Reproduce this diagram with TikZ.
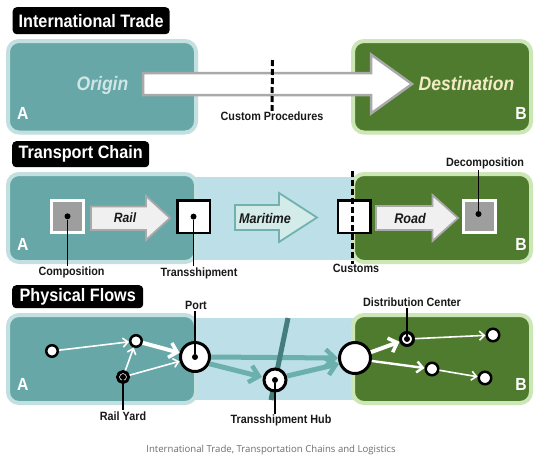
\documentclass[tikz,border=0pt]{standalone}
\usepackage{fontspec}
\setmainfont{Liberation Sans}
\newfontfamily\narrow[FakeStretch=0.9]{Liberation Sans}
\newfontfamily\capfont{Open Sans}
\usetikzlibrary{arrows.meta,calc}

\definecolor{tealfill}{HTML}{67A7A8}
\definecolor{tealrim}{HTML}{C3E0E1}
\definecolor{greenfill}{HTML}{4E7B2D}
\definecolor{greenrim}{HTML}{CCE6B5}
\definecolor{seaband}{HTML}{BCDFE8}
\definecolor{origintxt}{HTML}{CFE6E6}
\definecolor{desttxt}{HTML}{F2EBC4}
\definecolor{arrowfill}{HTML}{F0F0F0}
\definecolor{arrowedge}{HTML}{A9A9A9}
\definecolor{seafill}{HTML}{D3ECEA}
\definecolor{seaedge}{HTML}{71B2AF}
\definecolor{flowteal}{HTML}{6BB0AD}
\definecolor{darkteal}{HTML}{437E7C}
\definecolor{unitgray}{HTML}{9E9E9E}
\definecolor{captiongray}{HTML}{6E6E6E}

\begin{document}
\begin{tikzpicture}[x=1pt,y=-1pt,
  heading/.style={rectangle, rounded corners=4pt, fill=black, text=white,
    font=\narrow\bfseries\fontsize{18}{18}\selectfont, anchor=north west,
    inner xsep=6pt, inner ysep=0pt, minimum height=#1},
  tealbox/.style={rectangle, rounded corners=11pt, line width=4pt,
    fill=tealfill, draw=tealrim, inner sep=0pt},
  greenbox/.style={rectangle, rounded corners=11pt, line width=4pt,
    fill=greenfill, draw=greenrim, inner sep=0pt},
  corner/.style={text=white, font=\narrow\bfseries\fontsize{17.5}{17.5}\selectfont, inner sep=0pt},
  lbl/.style={font=\narrow\bfseries\fontsize{12}{12}\selectfont, text=black!90, inner sep=1pt, anchor=base},
  modelbl/.style={font=\narrow\bfseries\itshape\fontsize{14}{14}\selectfont, text=black!90, inner sep=0pt},
  leader/.style={line width=1.5pt, black},
  bigarrow/.style={fill=white, draw=arrowedge, line width=2.5pt, line join=miter},
  landarrow/.style={fill=arrowfill, draw=arrowedge, line width=1.8pt, line join=miter},
  seaarrow/.style={fill=seafill, draw=seaedge, line width=1.8pt, line join=miter},
  grayunit/.style={rectangle, fill=unitgray, draw=white, line width=3pt, minimum size=32pt, inner sep=0pt},
  whiteunit/.style={rectangle, fill=white, draw=black, line width=2.5pt, minimum size=32.5pt, inner sep=0pt},
  stop/.style={circle, fill=white, draw=black, line width=2.5pt, minimum size=#1, inner sep=0pt},
  hubdot/.style={circle, fill=black, minimum size=6pt, inner sep=0pt},
  thinflow/.style={white, line width=1.6pt, -{Straight Barb[length=5pt, width=9pt, line width=1.6pt]}},
  midflow/.style={white, line width=2.4pt, -{Straight Barb[length=6pt, width=11pt, line width=2.4pt]}},
  thickflow/.style={white, line width=4pt, -{Straight Barb[length=7.5pt, width=15pt, line width=3.5pt]}},
  seaflow/.style={flowteal, line width=5pt, -{Straight Barb[length=9pt, width=17pt, line width=4.5pt]}},
  customsline/.style={black, line width=3pt, dash pattern=on 6pt off 3pt}
]
\useasboundingbox (0,0) rectangle (534,456);
\fill[white] (0,0) rectangle (534,456);

% ---------------- International trade ----------------
\node[heading=27pt, minimum width=154.5pt] (h1) at (12.5,7) {International Trade};
\node[tealbox, minimum width=188pt, minimum height=91.5pt] (origin) at (102,86.75) {};
\node[greenbox, minimum width=178pt, minimum height=91.5pt] (destination) at (442,86.75) {};
\node[corner, anchor=base west] (a1) at (17,119.5) {A};
\node[corner, anchor=base east] (b1) at (527,119.5) {B};
\node[font=\narrow\bfseries\itshape\fontsize{19.5}{19.5}\selectfont, text=origintxt, anchor=base, inner sep=0pt]
  (origintext) at (102.5,90.7) {Origin};
\draw[bigarrow] (143,73) -- (371,73) -- (371,54.5) -- (412,84) -- (371,113.5) -- (371,95) -- (143,95) -- cycle;
\node[font=\narrow\bfseries\itshape\fontsize{19.5}{19.5}\selectfont, text=desttxt, anchor=base, inner sep=0pt]
  (desttext) at (466.5,90.7) {Destination};
\node[lbl] (customproc) at (272,120.7) {Custom Procedures};
\coordinate (proctop) at (272.5,60);
\draw[customsline] (proctop) -- (customproc.north);

% ---------------- Transport chain ----------------
\node[heading=26pt, minimum width=137pt] (h2) at (12,141) {Transport Chain};
\fill[seaband] (190,177) rectangle (360,260);
\node[tealbox, minimum width=188pt, minimum height=88pt] (chainA) at (102,218) {};
\node[greenbox, minimum width=178pt, minimum height=88pt] (chainB) at (442,218) {};
\node[corner, anchor=base west] (a2) at (17,250.5) {A};
\node[corner, anchor=base east] (b2) at (527,250.5) {B};

\node[grayunit] (comp) at (67.5,216.3) {};
\node[whiteunit] (trans) at (193.5,216.6) {};
\node[whiteunit] (cust) at (354,216.6) {};
\node[grayunit] (decomp) at (479,216.6) {};

\draw[landarrow] (91,206.4) -- (146,206.4) -- (146,196) -- (170,218) -- (146,240) -- (146,230) -- (91,230) -- cycle;
\node[modelbl, font=\narrow\bfseries\itshape\fontsize{13.5}{13.5}\selectfont] (rail) at (125,218) {Rail};
\draw[seaarrow] (235,205) -- (279,205) -- (279,193) -- (317,217.5) -- (279,242) -- (279,230) -- (235,230) -- cycle;
\node[modelbl] (maritime) at (265,218) {Maritime};
\draw[landarrow] (376,206) -- (432.5,206) -- (432.5,195) -- (458,218) -- (432.5,241) -- (432.5,230) -- (376,230) -- cycle;
\node[modelbl] (road) at (410,218) {Road};

\node[hubdot] (compdot) at (comp.center) {};
\node[hubdot] (transdot) at (trans.center) {};
\node[hubdot] (decompdot) at (478.5,214) {};

\node[lbl] (complbl) at (71.5,275.5) {Composition};
\node[lbl] (translbl) at (199,276) {Transshipment};
\node[lbl] (custlbl) at (356,272.5) {Customs};
\node[lbl] (decomplbl) at (485,166.5) {Decomposition};

\draw[leader] (compdot) -- (compdot |- complbl.north);
\draw[leader] (transdot) -- (transdot |- translbl.north);
\draw[leader] (decompdot) -- (decompdot |- decomplbl.south);
\coordinate (custtop) at (352.5,170.5);
\coordinate (custbottom) at (352.5,264);
\draw[customsline] (custtop) -- (custbottom);

% ---------------- Physical flows ----------------
\node[heading=23pt, minimum width=131pt] (h3) at (12,285) {Physical Flows};
\fill[seaband] (190,318) rectangle (360,400);
\node[tealbox, minimum width=188pt, minimum height=88pt] (flowA) at (102,359) {};
\node[greenbox, minimum width=178pt, minimum height=88pt] (flowB) at (442,359) {};
\node[corner, anchor=base west] (a3) at (17,390.7) {A};
\node[corner, anchor=base east] (b3) at (527,390.7) {B};

% places
\node[stop=11.5pt] (n1) at (52,351) {};
\node[stop=11.5pt] (n2) at (136,341) {};
\node[stop=11pt, line width=3pt] (yard) at (123,377) {};
\node[stop=29pt, line width=3pt] (port) at (195,357) {};
\node[stop=31pt, line width=3pt] (entry) at (355,358) {};
\node[stop=13pt, line width=3pt] (dc) at (407,339) {};
\node[stop=12.5pt] (d1) at (493,335) {};
\node[stop=12.5pt] (d2) at (432,369) {};
\node[stop=12.5pt] (d3) at (485,378) {};

% maritime legs and the crossing route
\coordinate (hubpos) at (275,380);
\draw[seaflow] (port.east) -- (entry.west);
\draw[seaflow] (port.-25) -- ($(hubpos)+(-13,-3)$);
\draw[seaflow] ($(hubpos)+(12,-4)$) -- (entry.-160);
\coordinate (routetop) at (288,318);
\coordinate (routebottom) at (271,400);
\draw[darkteal, line width=5pt] (routetop) -- (routebottom);
\node[stop=22pt, line width=3pt] (hub) at (hubpos) {};

% land legs
\draw[thinflow] (n1) -- (n2);
\draw[thinflow] (yard) -- (n2);
\draw[thinflow] (yard) -- (port);
\draw[thickflow] (n2) -- (port);
\draw[thickflow] (entry) -- (dc);
\draw[midflow] (entry.-10) -- (d2);
\draw[thinflow] (dc) -- (d1);
\draw[thinflow] (d2) -- (d3);

\node[hubdot] (yarddot) at (yard.center) {};
\node[hubdot] (portdot) at (port.center) {};
\node[hubdot] (hubcore) at (hub.center) {};
\node[hubdot] (dcdot) at (dc.center) {};

\node[lbl] (portlbl) at (196,309.3) {Port};
\node[lbl] (yardlbl) at (123,420) {Rail Yard};
\node[lbl] (hublbl) at (281,423.5) {Transshipment Hub};
\node[lbl] (dclbl) at (412,306.7) {Distribution Center};
\draw[leader] (portdot) -- (portdot |- portlbl.south);
\draw[leader] (yarddot) -- (yarddot |- yardlbl.north);
\draw[leader] (hubcore) -- (hubcore |- hublbl.north);
\draw[leader] (dcdot) -- (dcdot |- dclbl.south);

% caption
\node[font=\capfont\fontsize{9.6}{9.6}\selectfont, text=captiongray, anchor=base] (caption) at (271,452)
  {International Trade, Transportation Chains and Logistics};
\end{tikzpicture}
\end{document}
